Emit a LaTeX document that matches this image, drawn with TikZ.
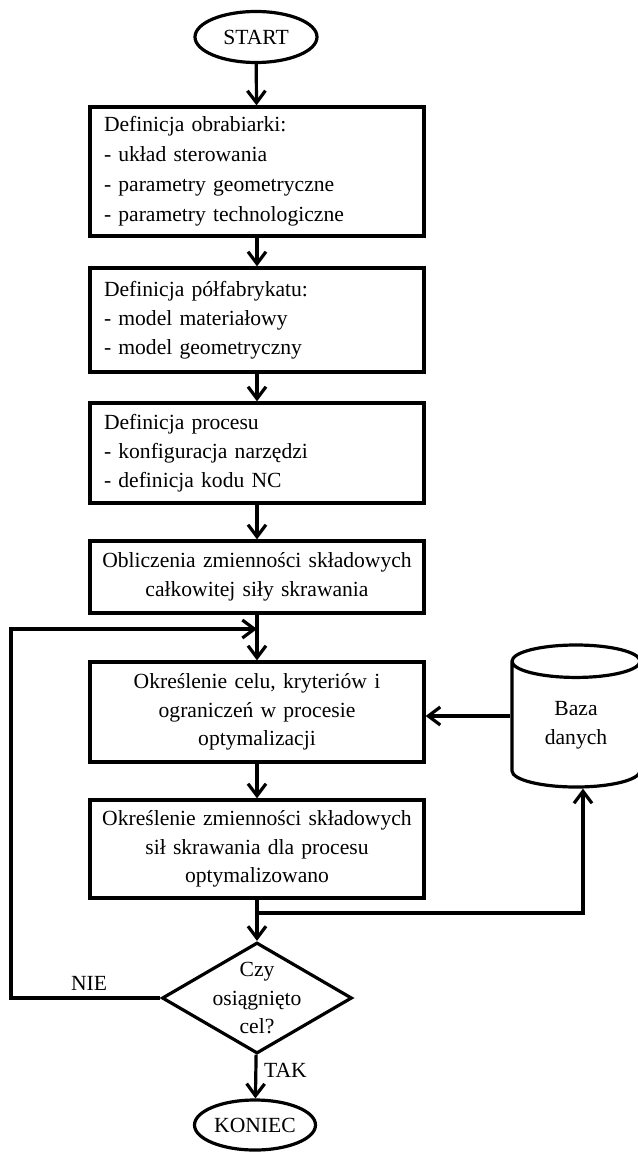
\documentclass[tikz,border=0pt]{standalone}
\usepackage{fontspec}
\setmainfont{Liberation Serif}
\usepackage{tikz}
\usetikzlibrary{arrows.meta,shapes}
\usetikzlibrary{positioning}
\usetikzlibrary{calc}
\tikzset{
    txt/.style={font=\fontsize{10.8}{14.4}\selectfont},
    block/.style={draw=black, rectangle, line width=1.6pt, txt,
        minimum width=167pt, inner ysep=0pt},
    blockleft/.style={block, align=left, text width=153pt, inner xsep=7pt},
    blockmid/.style={block, align=center, text width=165pt, inner xsep=1pt},
    terminal/.style={draw=black, ellipse, line width=1.6pt, txt, inner sep=0pt,
        minimum width=61pt, minimum height=25.5pt},
    decision/.style={draw=black, diamond, line width=1.6pt, inner sep=0pt,
        minimum width=95pt, minimum height=55.5pt},
    database/.style={draw=black, cylinder, shape border rotate=90, aspect=0.52,
        line width=1.6pt, txt, align=center, inner sep=0pt,
        minimum width=64pt, minimum height=71pt},
    flow/.style={draw=black, line width=1.6pt, -{Straight Barb[length=6pt,width=9pt]}},
    link/.style={draw=black, line width=1.6pt},
}

\begin{document}
\begin{tikzpicture}[x=0.5pt,y=-0.5pt]
	\useasboundingbox (0,0) rectangle (637,1154);
	\node[terminal] (start) at (256,37) {START};
	\node[blockleft, minimum height=64.5pt, font=\fontsize{10.8}{15}\selectfont] (obr) at (257,171.5)
		{Definicja obrabiarki:\\- układ sterowania\\- parametry geometryczne\\- parametry technologiczne};
	\node[blockleft, minimum height=52pt] (pol) at (257,320)
		{Definicja półfabrykatu:\\- model materiałowy\\- model geometryczny};
	\node[blockleft, minimum height=50pt] (proc) at (257,453)
		{Definicja procesu\\- konfiguracja narzędzi\\- definicja kodu NC};
	\node[blockmid, minimum height=36pt] (obl) at (257,577)
		{Obliczenia zmienności składowych\\całkowitej siły skrawania};
	\node[blockmid, minimum height=50pt] (cel) at (257,712)
		{Określenie celu, kryteriów i\\ograniczeń w procesie\\optymalizacji};
	\node[blockmid, minimum height=49pt] (sil) at (257,849)
		{Określenie zmienności składowych\\sił skrawania dla procesu\\optymalizowano};
	\node[database, anchor=shape center] (baza) at (576,716) {Baza\\danych};
	\node[decision] (dec) at (257,998) {};
	\node[txt, align=center] (dectxt) at (dec) {Czy\\osiągnięto\\cel?};
	\node[terminal, minimum width=60.5pt, minimum height=25pt] (koniec) at (255,1125) {KONIEC};
	%
	\coordinate (lp) at (11,629);
	\coordinate (kr) at (583,913);
	%
	\draw[flow] (start) -- (obr);
	\draw[flow] (obr) -- (pol);
	\draw[flow] (pol) -- (proc);
	\draw[flow] (proc) -- (obl);
	\draw[flow] (obl) -- (cel);
	\draw[flow] (cel) -- (sil);
	\draw[flow] (sil) -- (dec);
	\draw[flow] (dec) -- node[txt, right, pos=0.35] (tak) {TAK} (koniec);
	\draw[flow] (baza.west |- baza.shape center) -- (cel.east |- baza.shape center);
	\draw[flow] (sil.south |- kr) -- (kr) -- (kr |- baza.south);
	\draw[flow] (dec.west) -| (lp) -- (obl.south |- lp);
	\node[txt] (nie) at (89,983) {NIE};
\end{tikzpicture}
\end{document}
